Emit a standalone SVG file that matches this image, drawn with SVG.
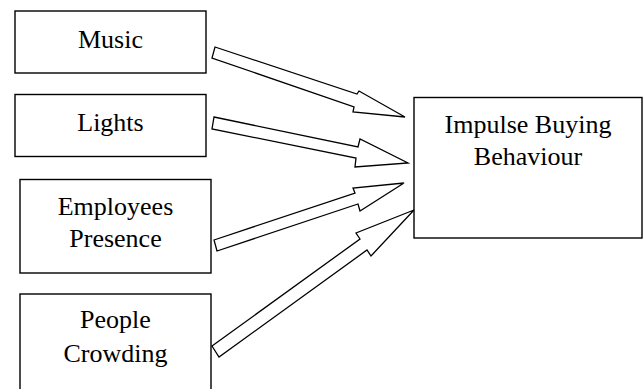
<svg xmlns="http://www.w3.org/2000/svg" width="644" height="389" viewBox="0 0 644 389">
<style>
.box{fill:#fff;stroke:#000;stroke-width:1.4}
.arr{fill:#fff;stroke:#000;stroke-width:1.3;stroke-linejoin:miter}
text{font-family:"Liberation Serif","Times New Roman",serif;font-size:26px;fill:#000;text-anchor:middle}
</style>
<rect width="644" height="389" fill="#fff"/>
<g id="music"><rect class="box" x="15" y="11" width="191" height="62"/><text x="110.5" y="47.5">Music</text></g>
<g id="lights"><rect class="box" x="15" y="94.5" width="191" height="62"/><text x="110.5" y="131">Lights</text></g>
<g id="employees"><rect class="box" x="20" y="179.5" width="191" height="93.5"/><text x="115.5" y="215">Employees</text><text x="115.5" y="247">Presence</text></g>
<g id="people"><rect class="box" x="20" y="294" width="191" height="97"/><text x="115.5" y="328">People</text><text x="115.5" y="362">Crowding</text></g>
<g id="impulse"><rect class="box" x="414" y="97.5" width="228" height="140.5"/><text x="528" y="133">Impulse Buying</text><text x="528" y="165">Behaviour</text></g>
<g id="connectors">
<polygon class="arr" points="215,47 357,94 359,91 405,117 353,112 354,107 212,58"/>
<polygon class="arr" points="214,117 358,147 360,139 408,163 355,167 356,158 212,129"/>
<polygon class="arr" points="214,240 355,193 353,188 404,183 360,211 358,204 217,251"/>
<polygon class="arr" points="212,346 360,239 356,233 414,210 371,256 367,250 219,357"/>
</g>
</svg>
